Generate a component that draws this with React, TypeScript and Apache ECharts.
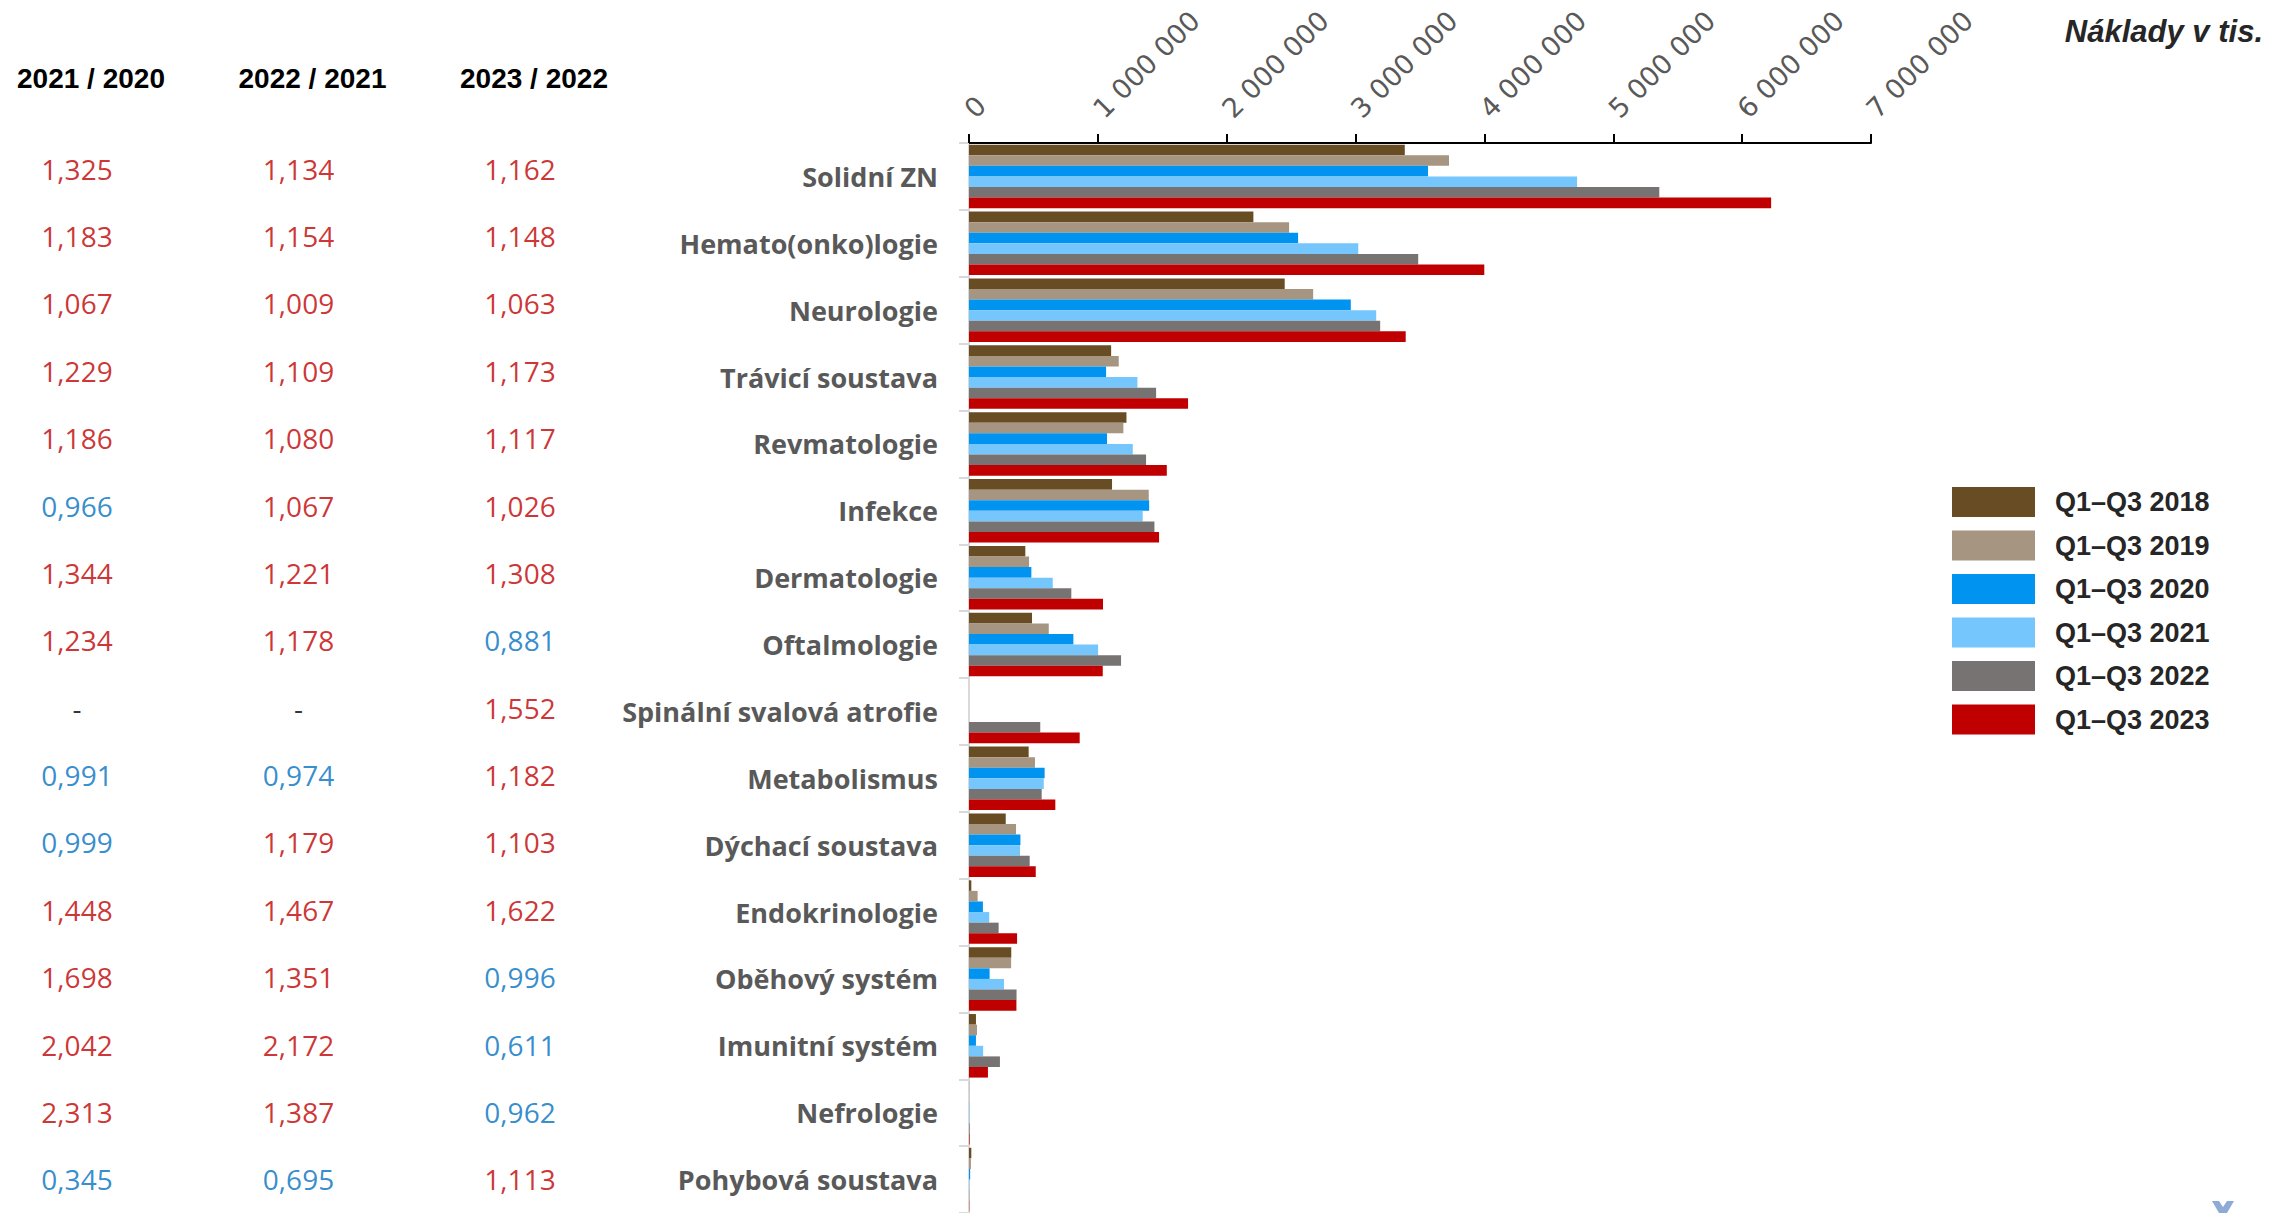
import React, { useEffect, useRef } from "react";
import * as echarts from "echarts";

const categories = [
  "Solidní ZN",
  "Hemato(onko)logie",
  "Neurologie",
  "Trávicí soustava",
  "Revmatologie",
  "Infekce",
  "Dermatologie",
  "Oftalmologie",
  "Spinální svalová atrofie",
  "Metabolismus",
  "Dýchací soustava",
  "Endokrinologie",
  "Oběhový systém",
  "Imunitní systém",
  "Nefrologie",
  "Pohybová soustava",
];

const seriesNames = ["Q1–Q3 2018", "Q1–Q3 2019", "Q1–Q3 2020", "Q1–Q3 2021", "Q1–Q3 2022", "Q1–Q3 2023"];
const seriesColors = ["#684c24", "#a69580", "#0094f0", "#74c6fc", "#777372", "#c00000"];

const q2018 = [3382000, 2207000, 2450000, 1103000, 1222000, 1110000, 437000, 489000, 0, 463000, 285000, 18000, 328000, 54000, 1000, 18000];
const q2019 = [3725000, 2484000, 2671000, 1162000, 1198000, 1395000, 466000, 619000, 0, 512000, 365000, 67000, 327000, 62000, 1500, 15000];
const q2020 = [3562000, 2554000, 2963000, 1064000, 1071000, 1398000, 484000, 810000, 0, 587000, 399000, 108000, 160000, 54000, 1600, 9000];
const q2021 = [4719000, 3021000, 3160000, 1307000, 1271000, 1348000, 650000, 1002000, 0, 580000, 396000, 157000, 272000, 110000, 3700, 3100];
const q2022 = [5357000, 3486000, 3191000, 1452000, 1374000, 1439000, 794000, 1180000, 553000, 564000, 471000, 230000, 369000, 240000, 5100, 2200];
const q2023 = [6225000, 3999000, 3389000, 1700000, 1535000, 1475000, 1040000, 1038000, 859000, 670000, 518000, 373000, 368000, 147000, 4900, 2400];
const seriesValues = [q2018, q2019, q2020, q2021, q2022, q2023];

const xTicks = [0, 1000000, 2000000, 3000000, 4000000, 5000000, 6000000, 7000000];

const tableHeaders = ["2021 / 2020", "2022 / 2021", "2023 / 2022"];
const ratio2021_2020 = ["1,325", "1,183", "1,067", "1,229", "1,186", "0,966", "1,344", "1,234", "-", "0,991", "0,999", "1,448", "1,698", "2,042", "2,313", "0,345"];
const ratio2022_2021 = ["1,134", "1,154", "1,009", "1,109", "1,080", "1,067", "1,221", "1,178", "-", "0,974", "1,179", "1,467", "1,351", "2,172", "1,387", "0,695"];
const ratio2023_2022 = ["1,162", "1,148", "1,063", "1,173", "1,117", "1,026", "1,308", "0,881", "1,552", "1,182", "1,103", "1,622", "0,996", "0,611", "0,962", "1,113"];
const tableColumns = [ratio2021_2020, ratio2022_2021, ratio2023_2022];

const fmtSpace = (v: number) => String(v).replace(/\B(?=(\d{3})+(?!\d))/g, " ");
const ratioColor = (s: string) => {
  if (s === "-") return "#000000";
  return parseFloat(s.replace(",", ".")) >= 1 ? "#c00000" : "#0070c0";
};

export default function App() {
  const ref = useRef<HTMLDivElement>(null);
  useEffect(() => {
    if (!ref.current) return;
    const chart = echarts.init(ref.current, null, { renderer: "svg" });

    const tableData: any[] = [];
    tableColumns.forEach((col, c) => {
      col.forEach((txt, r) => {
        tableData.push({
          value: [c, r],
          label: { formatter: txt, color: ratioColor(txt) },
        });
      });
    });

    const option: any = {
      animation: false,
      backgroundColor: "#ffffff",
      grid: [
        { left: 969, top: 143, width: 902, height: 1074, containLabel: false },
        { left: 77, top: 135, width: 443, height: 1081, containLabel: false },
      ],
      legend: {
        data: seriesNames,
        orient: "vertical",
        left: 1952,
        top: 487,
        padding: 0,
        itemWidth: 83,
        itemHeight: 30,
        itemGap: 13.5,
        icon: "rect",
        selectedMode: false,
        textStyle: {
          fontFamily: "Liberation Sans",
          fontWeight: "bold",
          fontSize: 27,
          color: "#262626",
          padding: [0, 0, 0, 15],
        },
      },
      xAxis: [
        {
          type: "value",
          gridIndex: 0,
          position: "top",
          min: 0,
          max: 7000000,
          interval: 1000000,
          splitLine: { show: false },
          axisLine: { show: true, lineStyle: { color: "#000000", width: 2 } },
          axisTick: { show: true, length: 9, lineStyle: { color: "#000000", width: 2 } },
          axisLabel: {
            rotate: -45,
            align: "left",
            verticalAlign: "middle",
            margin: 30,
            fontFamily: "DejaVu Sans",
            fontSize: 27,
            color: "#595959",
            formatter: (v: number) => (xTicks.indexOf(v) >= 0 ? fmtSpace(v) : ""),
          },
        },
        {
          type: "value",
          gridIndex: 1,
          position: "top",
          min: 0,
          max: 2,
          interval: 1,
          splitLine: { show: false },
          axisLine: { show: false },
          axisTick: { show: false },
          axisLabel: {
            margin: 43,
            fontFamily: "Liberation Sans",
            fontWeight: "bold",
            fontSize: 28,
            color: "#000000",
            padding: [0, 0, 0, 28],
            formatter: (v: number) => tableHeaders[v] ?? "",
          },
        },
      ],
      yAxis: [
        {
          type: "category",
          gridIndex: 0,
          inverse: true,
          data: categories,
          axisLine: { show: true, lineStyle: { color: "#d9d9d9", width: 2 } },
          axisTick: { show: true, length: 10, lineStyle: { color: "#d9d9d9", width: 2 } },
          axisLabel: {
            margin: 31,
            fontFamily: "Open Sans",
            fontWeight: "bold",
            fontSize: 27,
            color: "#595959",
          },
        },
        {
          type: "category",
          gridIndex: 1,
          inverse: true,
          data: categories,
          show: false,
        },
      ],
      series: [
        ...seriesNames.map((name, i) => ({
          name,
          type: "bar",
          xAxisIndex: 0,
          yAxisIndex: 0,
          data: seriesValues[i],
          barGap: "0%",
          barCategoryGap: "5%",
          itemStyle: { color: seriesColors[i] },
        })),
        {
          type: "scatter",
          xAxisIndex: 1,
          yAxisIndex: 1,
          symbolSize: 2,
          itemStyle: { color: "rgba(255,255,255,0)" },
          silent: true,
          data: tableData,
          label: {
            show: true,
            position: "inside",
            fontFamily: "Open Sans",
            fontSize: 28,
            textBorderWidth: 0,
            textBorderColor: "transparent",
            textShadowBlur: 0,
          },
        },
      ],
      graphic: [
        {
          type: "text",
          x: 2263,
          y: 31,
          style: {
            text: "Náklady v tis.",
            fontFamily: "Liberation Sans",
            fontWeight: "bold",
            fontStyle: "italic",
            fontSize: 31,
            fill: "#262626",
            textAlign: "right",
            textVerticalAlign: "middle",
          },
        },
        {
          type: "polygon",
          shape: {
            points: [
              [2212, 1201],
              [2219, 1201],
              [2223, 1207],
              [2227, 1201],
              [2234, 1201],
              [2227, 1213],
              [2219, 1213],
            ],
          },
          style: { fill: "#8faad5" },
        },
      ],
    };
    chart.setOption(option);
    return () => chart.dispose();
  }, []);

  return (
    <div
      ref={ref}
      style={{ position: "fixed", left: 0, top: 0, width: 2269, height: 1213, background: "#ffffff" }}
    />
  );
}
